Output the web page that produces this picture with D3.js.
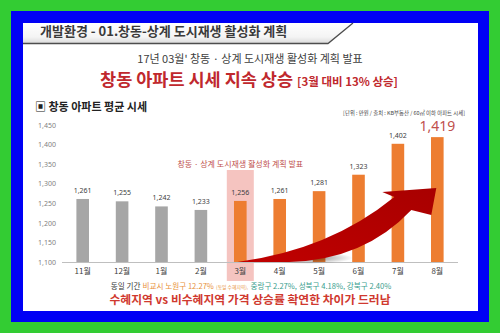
<!DOCTYPE html>
<html><head><meta charset="utf-8">
<script src="https://cdn.jsdelivr.net/npm/d3@7"></script>
<style>
html,body{margin:0;padding:0;background:#33cc33;}
svg{display:block;font-family:"Noto Sans CJK KR","Noto Sans",sans-serif;}
</style></head>
<body>
<script>
const months = ["11월","12월","1월","2월","3월","4월","5월","6월","7월","8월"];
const prices = [1261,1255,1242,1233,1256,1261,1281,1323,1402,1419];
const yTicks = [1100,1150,1200,1250,1300,1350,1400,1450];
const highlightMonth = "3월";
const headerText = "개발환경 - 01.창동-상계 도시재생 활성화 계획";
const subtitle = "17년 03월' 창동 · 상계 도시재생 활성화 계획 발표";
const titleMain = "창동 아파트 시세 지속 상승";
const titleSub = "[3월 대비 13% 상승]";
const sectionLabel = "▣ 창동 아파트 평균 시세";
const unitLabel = "[단위 : 만원 / 출처 : KB부동산 / 60㎡ 이하 아파트 시세]";
const eventLabel = "창동 · 상계 도시재생 활성화 계획 발표";
const noteParts = [
  {t:"동일 기간", c:"#333333", s:7.6},
  {t:"비교시 노원구 12.27%", c:"#e8913a", s:7.6},
  {t:"(동일 수혜지역),", c:"#e8913a", s:4.8},
  {t:"중랑구 2.27%, 성북구 4.18%, 강북구 2.40%", c:"#3a9e8e", s:7.6}
];
const conclusion = "수혜지역 vs 비수혜지역 가격 상승률 확연한 차이가 드러남";

const W=500,H=333;
const svg = d3.select("body").append("svg").attr("width",W).attr("height",H);
const defs = svg.append("defs");
const hg = defs.append("linearGradient").attr("id","hg").attr("x1",0).attr("y1",0).attr("x2",0).attr("y2",1);
hg.append("stop").attr("offset","0%").attr("stop-color","#ffffff");
hg.append("stop").attr("offset","70%").attr("stop-color","#f4f4f4");
hg.append("stop").attr("offset","100%").attr("stop-color","#dcdcdc");
const ag = defs.append("linearGradient").attr("id","ag").attr("x1",0).attr("y1",1).attr("x2",1).attr("y2",0);
ag.append("stop").attr("offset","0%").attr("stop-color","#c00000");
ag.append("stop").attr("offset","100%").attr("stop-color","#a80000");
const sg = defs.append("radialGradient").attr("id","sg");
sg.append("stop").attr("offset","0%").attr("stop-color","#000").attr("stop-opacity",0.5);
sg.append("stop").attr("offset","100%").attr("stop-color","#000").attr("stop-opacity",0);

// frame
svg.append("rect").attr("x",0).attr("y",0).attr("width",W).attr("height",H).attr("fill","#33cc33");
svg.append("rect").attr("x",11).attr("y",11).attr("width",478).attr("height",311).attr("fill","#0000f5");
svg.append("rect").attr("x",23).attr("y",23).attr("width",455).attr("height",288).attr("fill","#ffffff");

// header band
svg.append("path").attr("d","M23,23 L353,23 L328,43 L23,43 Z").attr("fill","url(#hg)");
svg.append("path").attr("d","M23,43.5 L328,43.5 L353,23").attr("fill","none").attr("stroke","#4d4d4d").attr("stroke-width",1.3);
svg.append("text").attr("x",40).attr("y",36).attr("font-size",13).attr("font-weight","bold").attr("fill","#3a3a3a").text(headerText);

svg.append("text").attr("x",250).attr("y",62.5).attr("text-anchor","middle").attr("font-size",11).attr("fill","#404040").text(subtitle);

// title: two texts laid out by measured width
const t1 = svg.append("text").attr("y",85.5).attr("font-size",17.5).attr("font-weight","bold").attr("fill","#c0282d").text(titleMain);
const t2 = svg.append("text").attr("y",85.5).attr("font-size",11.5).attr("font-weight","bold").attr("fill","#c0282d").text(titleSub);
const w1 = t1.node().getComputedTextLength(), w2 = t2.node().getComputedTextLength();
const tx0 = 249 - (w1+4+w2)/2;
t1.attr("x",tx0); t2.attr("x",tx0+w1+4);

svg.append("text").attr("x",35).attr("y",111).attr("font-size",11).attr("font-weight","bold").attr("fill","#222").text(sectionLabel);
svg.append("text").attr("x",465).attr("y",115).attr("text-anchor","end").attr("font-size",5.4).attr("fill","#444").text(unitLabel);

// scales
const x = d3.scaleBand().domain(months).range([63,457]).paddingInner(0.68).paddingOuter(0.34);
const y = d3.scaleLinear().domain([1100,1450]).range([262,125]);
const hi = months.indexOf(highlightMonth);

// highlight
const hx = x(highlightMonth)+x.bandwidth()/2;
svg.append("rect").attr("x",hx-13.5).attr("y",y(1335)).attr("width",27).attr("height",281-y(1335)).attr("fill","#f5c4c0");
svg.append("text").attr("x",hx).attr("y",167).attr("text-anchor","middle").attr("font-size",8).attr("fill","#c0504d").text(eventLabel);

// y axis labels
const yAxis = d3.axisLeft(y).tickValues(yTicks).tickSize(0).tickPadding(6).tickFormat(d3.format(","));
const ga = svg.append("g").attr("transform","translate(62,0)").call(yAxis);
ga.select(".domain").remove();
ga.selectAll("text").attr("font-size",7).attr("fill","#7f7f7f").attr("font-family","'Noto Sans','Noto Sans CJK KR',sans-serif");

// bars
svg.append("g").selectAll("rect").data(months).join("rect")
  .attr("x",d=>x(d)).attr("width",x.bandwidth())
  .attr("y",(d,i)=>y(prices[i])).attr("height",(d,i)=>y(1100)-y(prices[i]))
  .attr("fill",(d,i)=>i<hi?"#a6a6a6":"#ed7d31");

// x axis
const xAxis = d3.axisBottom(x).tickSize(0).tickPadding(6);
const gx = svg.append("g").attr("transform",`translate(0,${y(1100)})`).call(xAxis);
gx.select(".domain").attr("d","M62,0.5H458").attr("stroke","#bfbfbf");
gx.selectAll("text").attr("font-size",8).attr("fill","#404040").attr("font-family","'Noto Sans CJK KR',sans-serif");

// value labels
svg.append("g").selectAll("text").data(months).join("text")
  .attr("x",d=>x(d)+x.bandwidth()/2)
  .attr("y",(d,i)=>y(prices[i])-6)
  .attr("text-anchor","middle")
  .attr("font-size",(d,i)=>i===months.length-1?14:7)
  .attr("fill",(d,i)=>i===months.length-1?"#c0504d":"#404040")
  .attr("font-family","'Noto Sans',sans-serif")
  .text((d,i)=>d3.format(",")(prices[i]));

// arrow (anchored on scales)
const x0 = hx-3, yb = y(1100);
const xe = x(months[9])+x.bandwidth()/2;
const ya = y(1289);
svg.append("ellipse").attr("cx",x(months[6])-5).attr("cy",yb-4).attr("rx",45).attr("ry",6).attr("fill","url(#sg)");
const ap = d3.path();
ap.moveTo(x0, yb);
ap.quadraticCurveTo(x0+92, yb-12, xe-43, ya+9);   // upper edge to wing base
ap.lineTo(xe-55, ya+4);                           // left wing
ap.lineTo(xe-1, ya);                              // tip
ap.lineTo(xe-6, ya+27);                           // lower wing
ap.lineTo(xe-26, ya+22);                          // back to shaft
ap.quadraticCurveTo(xe-73, yb-2, x0+52, yb);      // lower edge
ap.closePath();
svg.append("path").attr("d",ap.toString()).attr("fill","url(#ag)");

// bottom notes: separate texts laid out by measured width
const ng = svg.append("g");
const gap = 2.2;
const nodes = noteParts.map(p=>ng.append("text").attr("y",289).attr("fill",p.c).attr("font-size",p.s).text(p.t));
const widths = nodes.map(n=>n.node().getComputedTextLength());
const total = d3.sum(widths)+gap*(widths.length-1);
let cx = 251 - total/2;
nodes.forEach((n,i)=>{ n.attr("x",cx); cx += widths[i]+gap; });

svg.append("text").attr("x",250).attr("y",304).attr("text-anchor","middle").attr("font-size",11.8).attr("font-weight","bold").attr("fill","#d0392f").text(conclusion);
</script>
</body></html>
